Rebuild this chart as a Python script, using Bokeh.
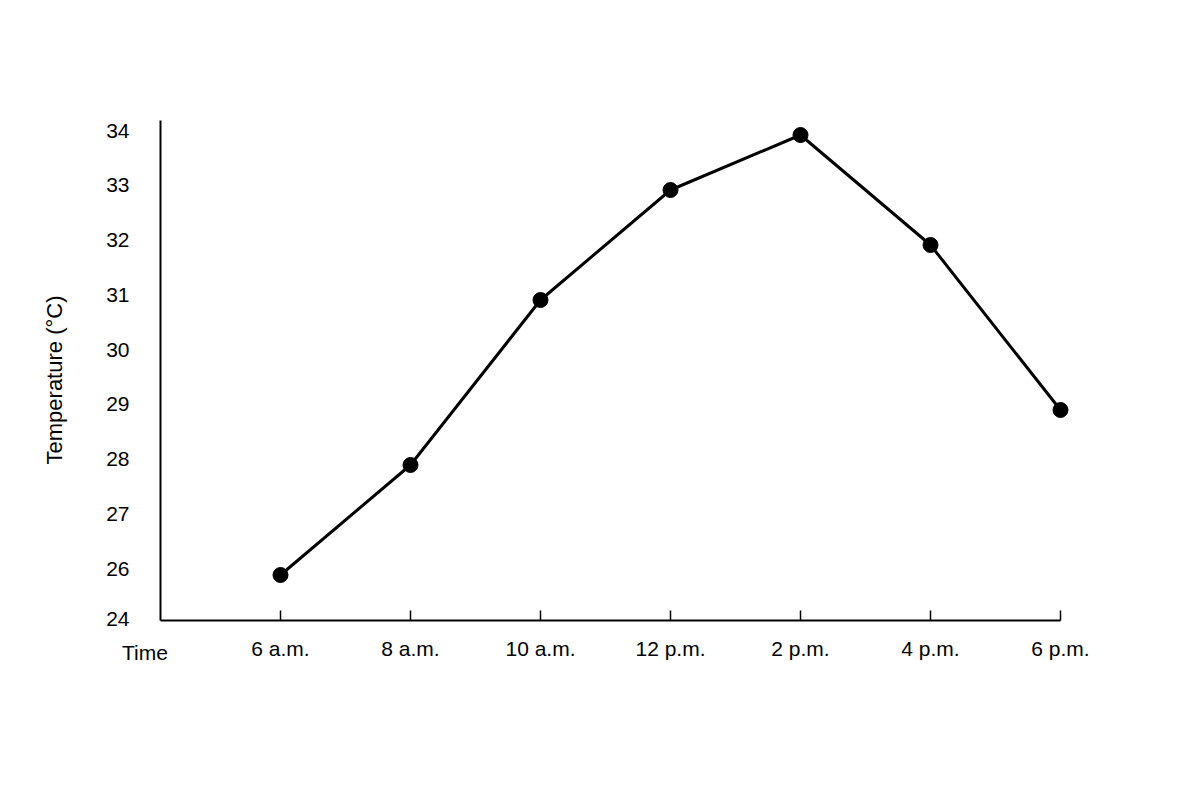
import math
from bokeh.plotting import figure
from bokeh.models import Range1d, LinearAxis, FixedTicker
from bokeh.core.properties import value
from bokeh.embed import file_html
from bokeh.resources import INLINE

# ---- data ----
times = ["6 a.m.", "8 a.m.", "10 a.m.", "12 p.m.", "2 p.m.", "4 p.m.", "6 p.m."]
temps = [26, 28, 31, 33, 34, 32, 29]
y_tick_values = [26, 27, 28, 29, 30, 31, 32, 33, 34]
y_tick_labels = ["26", "27", "28", "29", "30", "31", "32", "33", "34"]
y_break_label = "24"
x_title = "Time"
y_title = "Temperature (°C)"

FONT = "Liberation Sans"
FS = "21px"

x_idx = list(range(len(times)))

# ranges (frame: 900 x 500 px; 130 px per step, 55 px per degree)
x_start = -120 / 130
x_end = len(times) - 1
y_start = 26 - 45.5 / 55
y_end = y_start + 500 / 55
# label range (tick labels sit just above their value)
lab_start = 26 - 52 / 54.75
lab_end = 26 + 448 / 54.75
break_tick = round(26 - 50.8 / 54.75, 3)

p = figure(width=1200, height=800, output_backend="svg", toolbar_location=None,
           x_range=Range1d(x_start, x_end), y_range=Range1d(y_start, y_end),
           x_axis_location=None, y_axis_location=None,
           min_border_left=160, min_border_right=140,
           min_border_top=120, min_border_bottom=180)
p.outline_line_color = None
p.xgrid.visible = False
p.ygrid.visible = False
p.background_fill_color = "white"
p.border_fill_color = "white"

p.extra_y_ranges = {"lab": Range1d(lab_start, lab_end)}
yticks = [break_tick] + y_tick_values
yover = {break_tick: y_break_label}
for v, t in zip(y_tick_values, y_tick_labels):
    yover[v] = t

yaxis = LinearAxis(y_range_name="lab", ticker=FixedTicker(ticks=yticks),
                   major_label_overrides=yover)
yaxis.axis_line_width = 2
yaxis.axis_line_color = "black"
yaxis.major_tick_in = 0
yaxis.major_tick_out = 0
yaxis.minor_tick_in = 0
yaxis.minor_tick_out = 0
yaxis.major_label_standoff = 31
yaxis.major_label_text_font = FONT
yaxis.major_label_text_font_size = FS
yaxis.major_label_text_color = "black"
p.add_layout(yaxis, "left")

xaxis = LinearAxis(ticker=FixedTicker(ticks=x_idx),
                   major_label_overrides={i: t for i, t in zip(x_idx, times)})
xaxis.axis_line_width = 2
xaxis.axis_line_color = "black"
xaxis.major_tick_in = 10
xaxis.major_tick_out = 0
xaxis.major_tick_line_width = 1.5
xaxis.major_tick_line_color = "black"
xaxis.minor_tick_in = 0
xaxis.minor_tick_out = 0
xaxis.major_label_standoff = 16
xaxis.major_label_text_font = FONT
xaxis.major_label_text_font_size = FS
xaxis.major_label_text_color = "black"
p.add_layout(xaxis, "below")

# axis titles
p.text(x=[(144.5 - 280) / 130], y=[y_start - 32 / 55], text=[x_title],
       text_font=value(FONT), text_font_size=value(FS), text_color="black",
       text_align="center", text_baseline="alphabetic", level="overlay")
p.text(x=[(53.5 - 280) / 130], y=[y_start + (620 - 379.5) / 55], text=[y_title],
       angle=math.pi / 2,
       text_font=value(FONT), text_font_size=value("22px"), text_color="black",
       text_align="center", text_baseline="alphabetic", level="overlay")

p.line(x_idx, temps, line_color="black", line_width=3, level="overlay")
p.scatter(x_idx, temps, size=15, fill_color="black", line_color="black", level="overlay")

open("out.html", "w").write(file_html(p, INLINE))
